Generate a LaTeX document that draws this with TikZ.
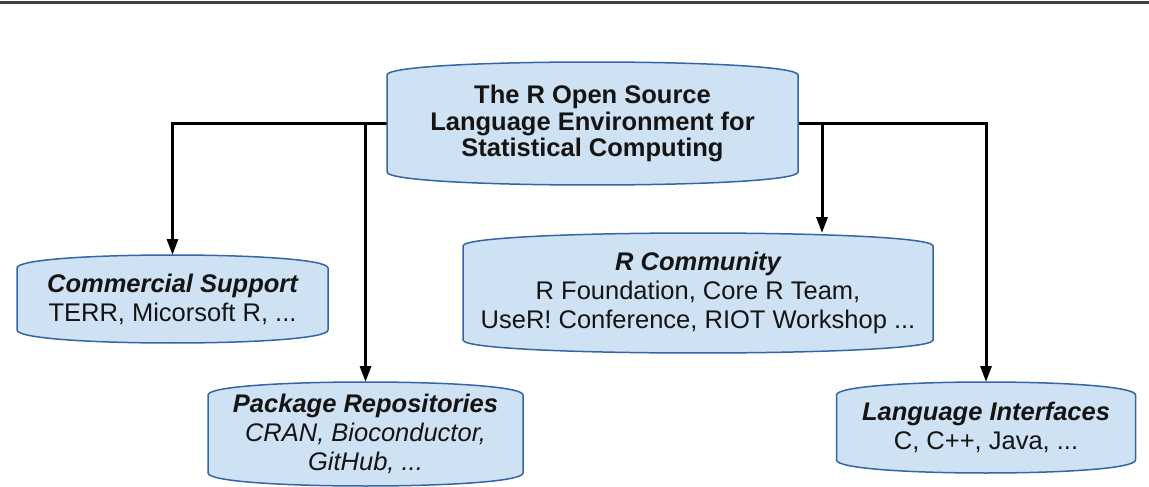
\documentclass[tikz,border=0pt]{standalone}
\usepackage{fontspec}
\setmainfont{Liberation Sans}
\usetikzlibrary{arrows.meta,calc,backgrounds}
\definecolor{boxfill}{RGB}{207,226,243}
\definecolor{boxedge}{RGB}{52,101,164}
\definecolor{txt}{RGB}{20,20,20}
\newcommand\bulgeshape[1]{%
  \path[fill=boxfill, draw=boxedge, line width=1.5pt]
    let \p1=(#1.north west), \p2=(#1.south east) in
    (\x1,\y1-13pt) .. controls (\x1,\y1+4.33pt) and (\x2,\y1+4.33pt) .. (\x2,\y1-13pt)
    -- (\x2,\y2+13pt) .. controls (\x2,\y2-4.33pt) and (\x1,\y2-4.33pt) .. (\x1,\y2+13pt)
    -- cycle;}
\begin{document}
\begin{tikzpicture}[x=1pt,y=-1pt,
  box/.style={inner sep=0pt, outer sep=0pt, align=center, text=txt,
    font=\fontsize{25.5}{29}\selectfont},
  arr/.style={line width=3pt, -{Triangle[length=16pt,width=11pt]}},
]
\useasboundingbox (0,0) rectangle (1149,487);
\draw[line width=3pt, black!75] (0,2.5) -- (1149,2.5);

\node[box, minimum width=411pt, minimum height=123pt,
      font=\bfseries\fontsize{25.5}{26.5}\selectfont] (top) at (592.5,123.5)
  {The R Open Source\\Language Environment for\\Statistical Computing};
\node[box, minimum width=311pt, minimum height=88pt] (comm) at (172.5,299)
  {{\bfseries\itshape Commercial Support}\\TERR, Micorsoft R, ...};
\node[box, minimum width=470pt, minimum height=120pt] (rcomm) at (698,293)
  {{\bfseries\itshape R Community}\\R Foundation, Core R Team,\\UseR! Conference, RIOT Workshop ...};
\node[box, minimum width=315pt, minimum height=104pt] (pkg) at (365.5,434)
  {{\bfseries\itshape Package Repositories}\\{\itshape CRAN, Bioconductor,}\\{\itshape GitHub, ...}};
\node[box, minimum width=299pt, minimum height=91pt] (lang) at (986,427.5)
  {{\bfseries\itshape Language Interfaces}\\C, C++, Java, ...};
\coordinate (rc) at ($(rcomm.north)+(124,0)$);

\begin{scope}[on background layer]
  \draw[arr] (top.west) -| (comm.north);
  \draw[arr] (top.west) -| (pkg.north);
  \draw[arr] (top.east) -| (rc);
  \draw[arr] (top.east) -| (lang.north);
  \bulgeshape{top}
  \bulgeshape{comm}
  \bulgeshape{rcomm}
  \bulgeshape{pkg}
  \bulgeshape{lang}
\end{scope}
\end{tikzpicture}
\end{document}
